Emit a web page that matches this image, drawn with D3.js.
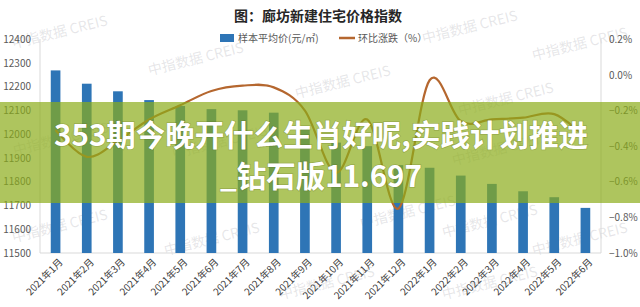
<!DOCTYPE html>
<html><head><meta charset="utf-8">
<script src="https://cdn.jsdelivr.net/npm/d3@7"></script>
<style>html,body{margin:0;padding:0;background:#fff;}svg{display:block;}</style>
</head><body>
<svg id="c" width="640" height="307"></svg>
<script>
const months = ["2021年1月","2021年2月","2021年3月","2021年4月","2021年5月","2021年6月","2021年7月","2021年8月","2021年9月","2021年10月","2021年11月","2021年12月","2022年1月","2022年2月","2022年3月","2022年4月","2022年5月","2022年6月"];
const avgPrice = [12269,12213,12181,12144,12119,12106,12101,12091,12030,11965,11950,11870,11859,11826,11791,11760,11735,11690];
const momChange = [-0.31,-0.46,-0.37,-0.25,-0.17,-0.09,-0.06,-0.07,-0.20,-0.55,-0.25,-0.75,-0.03,-0.26,-0.25,-0.24,-0.22,-0.35];
const leftTicks = [11500,11600,11700,11800,11900,12000,12100,12200,12300,12400];
const rightTicks = [-1.0,-0.8,-0.6,-0.4,-0.2,0.0,0.2];
const title = "图：廊坊新建住宅价格指数";
const legendLabels = ["样本平均价(元/㎡)","环比涨跌（%）"];
const watermark = "中指数据 CREIS";
const overlayLines = ["353期今晚开什么生肖好呢,实践计划推进","_钻石版11.697"];

const svg = d3.select("#c");
const FONT = "'Noto Sans CJK SC','Noto Sans',sans-serif";
const BLUE = "#2e75b6", LINE = "#b5672f";
const x = d3.scaleBand().domain(months).range([40,601]).paddingInner(0.69).paddingOuter(0.345);
const yL = d3.scaleLinear().domain([11500,12400]).range([253,39.3]);
const yR = d3.scaleLinear().domain([-1.0,0.2]).range([253,39.3]);

// watermarks
const wm = [[60,33],[196,60],[470,28],[580,45],[343,83],[506,100],[61,140],[220,143],[500,150],[60,227],[212,240],[408,213],[490,222],[580,240],[327,284],[490,284]];
svg.append("g").selectAll("text").data(wm).join("text")
  .attr("transform",d=>`translate(${d[0]},${d[1]}) rotate(-14)`)
  .attr("text-anchor","middle").attr("dominant-baseline","middle")
  .attr("font-family",FONT).attr("font-size",14).attr("fill","rgba(140,140,150,0.22)")
  .text(watermark);

// axis lines
svg.append("line").attr("x1",40).attr("x2",40).attr("y1",39).attr("y2",253).attr("stroke","#d9d9d9");
svg.append("line").attr("x1",601).attr("x2",601).attr("y1",39).attr("y2",253).attr("stroke","#d9d9d9");
svg.append("line").attr("x1",40).attr("x2",601).attr("y1",253).attr("y2",253).attr("stroke","#d9d9d9");

// left axis
const gl = svg.append("g").attr("transform","translate(34,0)")
  .call(d3.axisLeft(yL).tickValues(leftTicks).tickSize(0).tickFormat(d3.format("d")));
gl.select(".domain").remove();
gl.selectAll("text").attr("font-family",FONT).attr("font-size",10).attr("fill","#595959");

// right axis
const gr = svg.append("g").attr("transform","translate(606,0)")
  .call(d3.axisRight(yR).tickValues(rightTicks).tickSize(0).tickFormat(d=>d3.format(".1f")(d)+"%"));
gr.select(".domain").remove();
gr.selectAll("text").attr("font-family",FONT).attr("font-size",10).attr("fill","#595959");

// bars
svg.append("g").selectAll("rect").data(months).join("rect")
  .attr("x",d=>x(d)).attr("width",x.bandwidth())
  .attr("y",(d,i)=>yL(avgPrice[i])).attr("height",(d,i)=>253-yL(avgPrice[i]))
  .attr("fill",BLUE);

// line
const lineGen = d3.line().x((d,i)=>x(months[i])+x.bandwidth()/2).y(d=>yR(d)).curve(d3.curveCardinal.tension(0));
svg.append("path").datum(momChange).attr("d",lineGen).attr("fill","none").attr("stroke",LINE).attr("stroke-width",2.2);

// x labels
svg.append("g").selectAll("text").data(months).join("text")
  .attr("transform",d=>`translate(${x(d)+x.bandwidth()/2+6},${261}) rotate(-45)`)
  .attr("text-anchor","end").attr("dominant-baseline","middle")
  .attr("font-family",FONT).attr("font-size",9.8).attr("fill","#404040").text(d=>d);

// title
svg.append("text").attr("x",318).attr("y",21).attr("text-anchor","middle")
  .attr("font-family",FONT).attr("font-weight","bold").attr("font-size",14).attr("fill","#262626").text(title);

// legend
svg.append("rect").attr("x",220).attr("y",34).attr("width",14).attr("height",8).attr("fill",BLUE);
svg.append("text").attr("x",238).attr("y",42).attr("font-family",FONT).attr("font-size",10).attr("fill","#595959").text(legendLabels[0]);
svg.append("line").attr("x1",339).attr("x2",355).attr("y1",38).attr("y2",38).attr("stroke",LINE).attr("stroke-width",2.5);
svg.append("text").attr("x",358).attr("y",42).attr("font-family",FONT).attr("font-size",10).attr("fill","#595959").text(legendLabels[1]);

// overlay band
svg.append("rect").attr("x",0).attr("y",102).attr("width",640).attr("height",101).attr("fill","rgba(140,172,25,0.7)");
svg.append("g").selectAll("text").data(overlayLines).join("text")
  .attr("x",321).attr("y",(d,i)=>146+i*41).attr("text-anchor","middle")
  .attr("font-family",FONT).attr("font-weight","bold").attr("font-size",29.5).attr("fill","#fff")
  .style("paint-order","stroke").attr("stroke","rgba(80,90,20,0.25)").attr("stroke-width",1.5)
  .text(d=>d);
</script>
</body></html>
